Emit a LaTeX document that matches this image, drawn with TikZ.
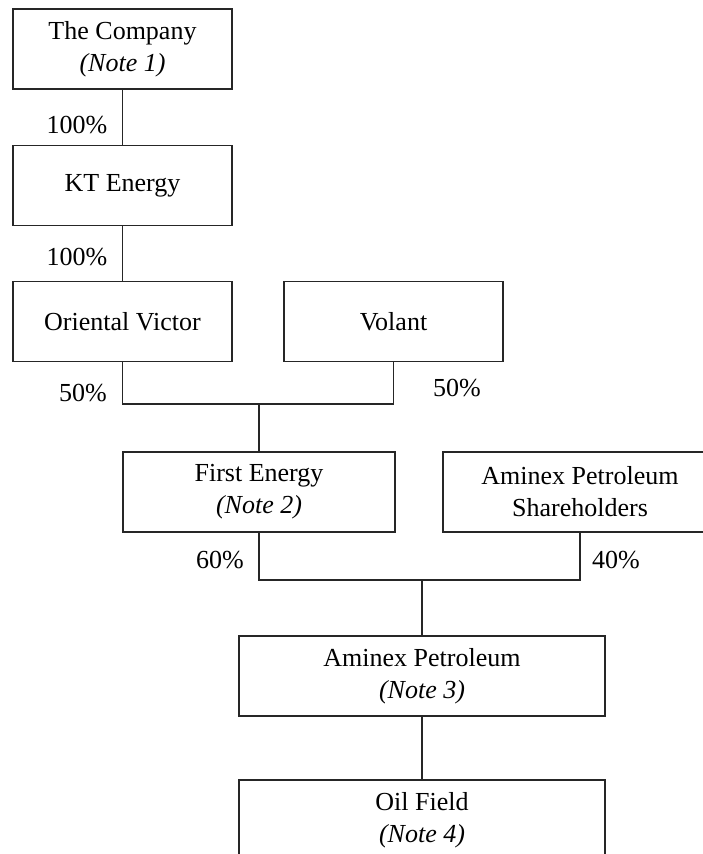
\documentclass[tikz,border=0pt]{standalone}
\usepackage{fontspec}
\setmainfont{Liberation Serif}
\begin{document}
\begin{tikzpicture}[x=1pt,y=-1pt,
  box/.style={draw=black!85,line width=1.1pt,rectangle,inner sep=0pt,minimum height=80pt,align=center,
    font=\fontsize{26}{32}\selectfont},
  pct/.style={font=\fontsize{26}{32}\selectfont,inner sep=0pt},
  link/.style={draw=black!85,line width=1.1pt}]
\useasboundingbox (0,0) rectangle (703,854);
\clip (0,0) rectangle (703,854);
\node[box,minimum width=219pt] (comp) at (122.5,49) {The Company\\\textit{(Note 1)}};
\node[box,minimum width=219pt] (kt) at (122.5,185.5) {KT Energy};
\node[box,minimum width=219pt] (ov) at (122.5,321.5) {Oriental Victor};
\node[box,minimum width=219pt] (vol) at (393.5,321.5) {Volant};
\node[box,minimum width=272pt] (fe) at (259,492) {First Energy\\\textit{(Note 2)}};
\node[box,minimum width=274pt] (sh) at (580,492) {Aminex Petroleum\\Shareholders};
\node[box,minimum width=366pt] (ap) at (422,676) {Aminex Petroleum\\\textit{(Note 3)}};
\node[box,minimum width=366pt] (of) at (422,820) {Oil Field\\\textit{(Note 4)}};
\coordinate (j1) at (259,404);
\coordinate (j2) at (422,580);
\draw[link] (comp.south) -- (kt.north);
\draw[link] (kt.south) -- (ov.north);
\draw[link] (ov.south) |- (j1) -| (vol.south);
\draw[link] (j1) -- (fe.north);
\draw[link] (fe.south) |- (j2) -| (sh.south);
\draw[link] (j2) -- (ap.north);
\draw[link] (ap.south) -- (of.north);
\node[pct] (p1) at (77,125) {100\%};
\node[pct] (p2) at (77,257) {100\%};
\node[pct] (p3) at (83,393) {50\%};
\node[pct] (p4) at (457,388) {50\%};
\node[pct] (p5) at (220,560) {60\%};
\node[pct] (p6) at (616,560) {40\%};
\end{tikzpicture}
\end{document}
